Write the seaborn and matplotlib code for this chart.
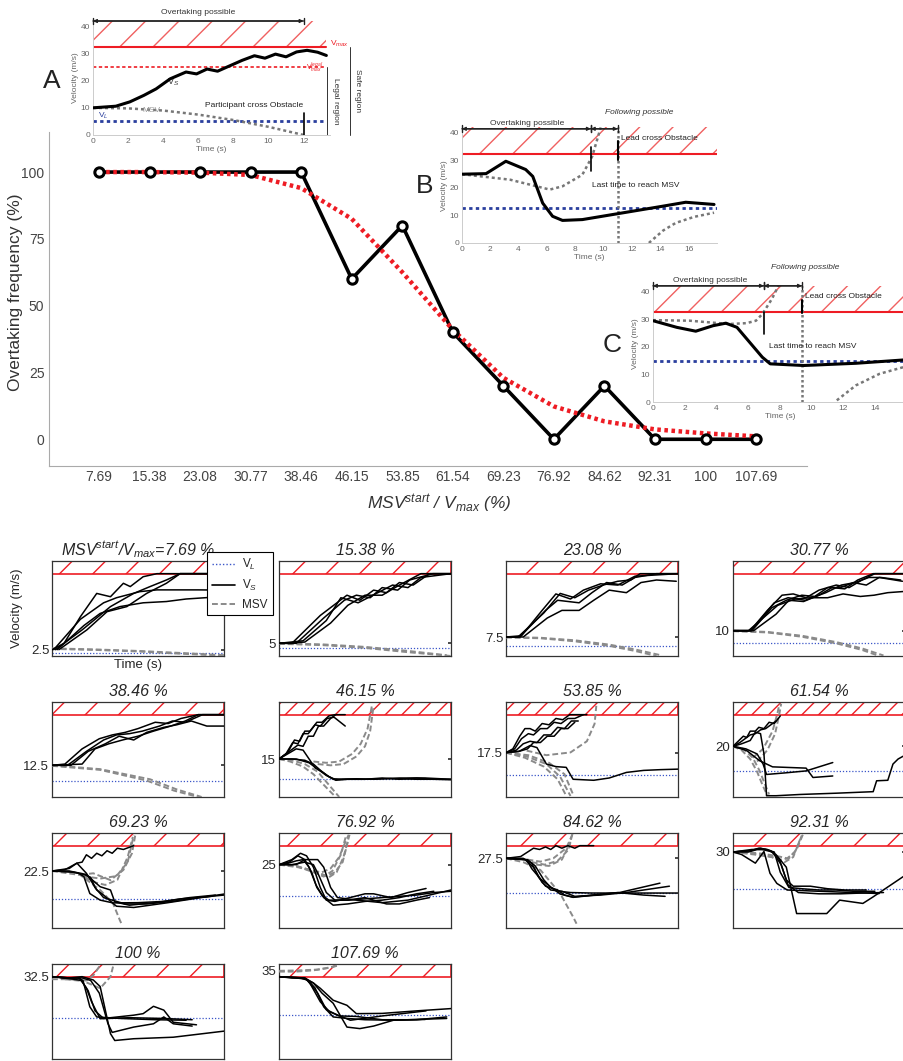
import numpy as np
import matplotlib
matplotlib.use('Agg')
import matplotlib.pyplot as plt
from matplotlib.lines import Line2D
import seaborn as sns

# ─────────────────────────────────────────────
# DATA – main curve
# ─────────────────────────────────────────────
RATIO = [7.69, 15.38, 23.08, 30.77, 38.46, 46.15, 53.85, 61.54, 69.23, 76.92, 84.62, 92.31, 100, 107.69]
OVERTAKE = [100, 100, 100, 100, 100, 60, 80, 40, 20, 0, 20, 0, 0, 0]
FIT = [100, 100, 99.8, 98.9, 94, 82.5, 62.5, 41, 23, 12.3, 6.7, 3.7, 2.2, 1.1]
RATIO_LABELS = ['7.69', '15.38', '23.08', '30.77', '38.46', '46.15', '53.85',
                '61.54', '69.23', '76.92', '84.62', '92.31', '100', '107.69']

# ─────────────────────────────────────────────
# DATA – inset A / B / C (time s, velocity m/s)
# ─────────────────────────────────────────────
A_VS_T = [0, 1.3, 2.1, 2.9, 3.6, 4.4, 5.3, 5.9, 6.5, 7.1, 7.8, 8.5, 9.2, 9.8, 10.4, 11, 11.6, 12.2, 12.8, 13.3]
A_VS_V = [10, 10.6, 12.2, 14.6, 17, 20.7, 23.2, 22.5, 24.3, 23.5, 25.5, 27.5, 29.2, 28.3, 29.8, 28.8, 30.6, 31.2, 30.5, 29.3]
A_MSV_T = [0, 2, 4, 6, 8, 10, 12]
A_MSV_V = [10, 9.8, 9, 7.5, 5.5, 3, 0]
A_VL, A_VLEGAL = 5, 25

B_VS_T = [0, 1.7, 3.1, 4.5, 5, 5.7, 6.4, 7.1, 8.5, 11.3, 14.1, 15.8, 17.8]
B_VS_V = [25, 25.2, 29.7, 26.7, 24.2, 14.5, 9.7, 8.2, 8.5, 10.9, 13.3, 14.8, 14]
B_MSV1_T = [0, 3.4, 6.2, 7.1, 8.5, 9.2, 9.8]
B_MSV1_V = [25, 23, 19.4, 20.6, 24.8, 31.5, 42]
B_MSV2_T = [13.2, 14.2, 15.1, 16.4, 17.8]
B_MSV2_V = [0, 4.5, 7.3, 9.5, 11]
B_VL, B_TLAST, B_TLEAD = 12.7, 9.1, 11

C_VS_T = [0, 1.5, 2.7, 3.8, 4.6, 5.3, 6.1, 6.9, 7.4, 9.5, 12.8, 15.8]
C_VS_V = [29.4, 27, 25.6, 27.6, 28.5, 27, 21.6, 16.2, 13.8, 13.2, 14, 15.2]
C_MSV1_T = [0, 2.3, 4.8, 5.9, 6.5, 6.9, 7.5, 8]
C_MSV1_V = [29.6, 29.4, 28.2, 28.5, 29.4, 31.8, 37.2, 43]
C_MSV2_T = [11.6, 12.8, 14.3, 15.8]
C_MSV2_V = [0.6, 6, 10.2, 12.6]
C_VL, C_TLAST, C_TLEAD = 15, 7, 9.4

# ─────────────────────────────────────────────
# DATA – small panels: start values, V_L, traces (t, v)
# ─────────────────────────────────────────────
START = [2.5, 5, 7.5, 10, 12.5, 15, 17.5, 20, 22.5, 25, 27.5, 30, 32.5, 35]
VL = [1.3, 3, 4, 5.3, 6.4, 7.3, 8.6, 10.3, 11.3, 12.6, 13.9, 15.2, 16, 17.3]

P01_VS = [([0, 1.4, 3.3, 5.2, 6.8, 8.3, 9.1, 10.6, 12.2, 20], [2.5, 5, 15.5, 24.7, 23.4, 28.7, 27.4, 31.3, 32.5, 32.5]),
          ([0.2, 3.3, 6, 7.5, 10.2, 12.2, 17, 20], [2.5, 14.5, 21, 23, 25.4, 26.1, 26.1, 26]),
          ([0.6, 3.7, 5.6, 7.9, 10.6, 13.3, 15.6, 20], [2.5, 12, 16.8, 19.5, 21, 21.5, 22.5, 23.5]),
          ([0.8, 4.05, 6.4, 8.7, 11, 13.3, 14.9, 20], [2.5, 10.3, 17.5, 19.5, 24.7, 28.7, 32.5, 32.5]),
          ([0.4, 3.5, 6.8, 9.5, 11.4, 13.3, 14.9, 20], [2.5, 10.3, 19.5, 24.7, 27.4, 30, 32.5, 32.5])]
P01_MSV = [([0, 5, 10, 15, 20], [3, 2.6, 2, 1.2, 0.3]), ([0, 5, 10, 15, 20], [2.8, 2.4, 1.8, 0.9, 0.1])]

P02_VS = [([0, 1.5, 4.8, 7.9, 9.4, 11, 12.5, 14, 15.6, 17.5, 20], [5, 5, 16, 24, 22, 26, 25, 29, 28, 32.5, 32.5]),
          ([0, 2, 5.2, 7.6, 9, 10.6, 12, 13.8, 15.2, 17.9, 20], [5, 5, 15, 22, 24, 23, 27, 26, 30, 32.5, 32.5]),
          ([0, 2.8, 5.5, 7.2, 9.2, 11.5, 13.2, 15, 16.5, 20], [5, 6, 14, 23, 21, 25, 28, 27, 31, 32.5]),
          ([0, 3, 6, 8, 10, 12, 14, 16.5, 20], [5, 5.5, 13, 20, 24, 24, 28, 32.5, 32.5])]
P02_MSV = [([0, 5, 10, 15, 19.5], [5, 4.6, 3.6, 2, 0.3]), ([0, 5, 10, 15, 20], [4.8, 4.3, 3.2, 1.5, 0])]

P03_VS = [([0, 1.4, 4.4, 6.3, 8, 9.6, 11.3, 13, 14.5, 15.6, 20], [7.5, 7.5, 17, 24.7, 23, 26, 28, 29.5, 30, 32.5, 32.5]),
          ([0, 1.6, 4.6, 6, 8.5, 10, 11.7, 13.5, 15, 17.5, 20], [7.5, 7.5, 18, 22, 21, 25, 29, 28, 31, 32.5, 32.5]),
          ([0, 2, 4.8, 6.5, 8.5, 10.2, 12, 14, 15.7, 17.5, 19.8], [7.5, 7.5, 15, 18, 18, 22, 26, 25, 29, 30, 29.5]),
          ([0, 1.8, 4.2, 5.8, 7.5, 9, 11, 13, 15, 20], [7.5, 8, 18, 24.5, 22.5, 26, 28.5, 28, 31.5, 32.5])]
P03_MSV = [([0, 4, 8, 12, 15, 18], [7.5, 7.2, 6.2, 4.5, 2.6, 0.3]), ([0, 4, 8, 12, 15, 17.5], [7.3, 7, 5.8, 4, 2, 0])]

P04_VS = [([0, 2, 4, 5.7, 7, 8.5, 10, 12, 13.5, 15, 16.5, 20], [10, 10, 18, 24, 24.5, 23, 26, 28, 27, 30, 32.5, 32.5]),
          ([0, 2.2, 4.5, 6.2, 8, 9.5, 11, 12.5, 14, 15.5, 17, 19.7], [10, 10, 19, 22, 24, 23.5, 27, 27, 29, 28, 31, 29.5]),
          ([0, 2.4, 5, 6.5, 8.2, 10, 11.5, 13, 14.5, 16.3, 20], [10, 10, 16.5, 22, 21.5, 24, 27, 26.5, 30, 32.5, 32.5]),
          ([0, 1.8, 5.2, 7.2, 9, 11, 12.8, 14.8, 16.4, 18, 20], [10, 10, 20, 22.5, 23, 23, 24.5, 23.5, 24, 25, 25.5]),
          ([0, 2.1, 4.8, 6.4, 8.4, 10.8, 12.6, 14.2, 15.8, 17.2, 19.5], [10, 10, 21, 23, 22, 25, 28, 29, 31, 31, 30])]
P04_MSV = [([0, 4, 8, 12, 15, 17.5], [10, 9.5, 8, 5.5, 3, 0.2]), ([0, 4, 8, 12, 15, 17], [9.8, 9.3, 7.6, 5, 2.4, 0])]

P05_VS = [([0, 1.5, 3.5, 5.5, 7, 8.5, 10, 12, 13.5, 15, 17, 20], [12.5, 13, 19, 23, 24.5, 25.5, 27, 29.5, 29, 31, 32.5, 32.5]),
          ([0, 1.8, 4, 6, 7.5, 9, 10.5, 12.5, 14, 15.5, 17.5, 20], [12.5, 12.5, 18, 22.5, 24.5, 25, 26, 28, 30, 29.5, 32.5, 32.5]),
          ([0, 2.2, 4.2, 6.2, 7.8, 9.5, 11, 13, 14.5, 16.2, 18, 20], [12.5, 12.5, 18, 21, 24, 22.5, 25.5, 27.5, 28.5, 30, 28, 28]),
          ([0, 3.5, 5, 6.6, 8.2, 10, 11.8, 13.8, 15.5, 17, 20], [12.5, 13, 19, 21, 22.5, 24, 26, 28, 30, 32.5, 32.5])]
P05_MSV = [([0, 5.6, 11.4, 14.5, 17.4], [12.5, 11, 7, 3, 0]), ([0, 5.6, 11, 14.2, 17], [12.3, 10.7, 6.5, 2.5, 0])]

P06_VS = [([0, 0.8, 1.6, 2.2, 2.8, 3.4, 4.2, 4.8, 5.6, 6.4, 7.7], [15, 17, 21.5, 21, 25, 25, 28.5, 28, 31, 31.5, 28]),
          ([0, 1, 1.8, 2.4, 3, 3.6, 4.4, 5, 5.8, 6.5, 7.7], [15, 17.5, 22.5, 22, 26, 26, 29.5, 29.5, 32, 32.5, 32.5]),
          ([0, 1.2, 2.2, 2.8, 3.4, 4, 4.6, 5.2, 6, 6.6], [15, 18, 20.5, 20, 24, 24, 28, 28, 31, 32.5]),
          ([0, 1, 2, 2.8, 3.5, 4.2, 5, 5.8, 6.6, 8, 10, 13, 16, 20], [15, 17, 19, 18.5, 15, 11.5, 10, 8, 6.6, 7, 7, 7.3, 7, 7]),
          ([0, 1.5, 3, 4, 5, 5.6, 6.2, 7, 9, 11, 14, 17, 20], [15, 15, 14.5, 13, 10, 8.5, 7.2, 7, 7.2, 7, 7.5, 7.5, 7]),
          ([0, 2, 3.5, 4.5, 5.5, 6.5, 8, 10, 12, 14, 16, 18, 20], [15, 15, 13.5, 11, 8.5, 7, 7, 7, 7.5, 7, 7.5, 7, 6.8])]
P06_MSV = [([0, 1.5, 3, 4.5, 5.5, 6.5, 7], [15, 14.5, 13, 10, 6, 2, 0]),
           ([0, 1.3, 2.8, 4, 5, 6, 6.6], [15, 14, 12, 9, 5.5, 2, 0]),
           ([4, 5.5, 7, 8.5, 9.5, 10.3, 10.8], [14, 13.5, 14, 17, 21, 27, 36]),
           ([4.5, 6, 7.5, 9, 10, 10.6, 11], [13, 12.5, 13, 16, 20, 26, 36])]

P07_VS = [([0, 0.8, 1.6, 2.2, 2.8, 3.4, 4.2, 5, 5.8, 6.6, 7.4, 8.2, 9.4], [17.5, 19, 24, 27, 27, 26, 29, 28.5, 31, 30.5, 32.5, 32.5, 32.5]),
          ([0, 1, 1.8, 2.6, 3.2, 4, 4.8, 5.6, 6.4, 7.2, 8, 9], [17.5, 19, 23, 25, 24.5, 27, 27, 29.5, 29, 31, 31, 32.5]),
          ([0, 1.2, 2, 2.8, 3.6, 4.4, 5.2, 6, 6.8, 7.6, 8.4], [17.5, 18.5, 21, 22, 21.5, 24.5, 24.5, 27.5, 27, 30, 30]),
          ([0, 1.5, 2.5, 3.2, 4, 4.8, 5.6, 6.4, 7.2, 8], [17.5, 18, 19, 21.5, 21.5, 24, 24, 27, 27, 29.5]),
          ([0, 1.5, 2.8, 3.6, 4.7, 5.8, 7, 7.8, 10.2, 12, 14, 16, 18, 20], [17.5, 18, 20.3, 19.5, 13, 12, 11.7, 7, 6.6, 7.5, 9.7, 10.5, 10.8, 11])]
P07_MSV = [([0, 2.4, 4.7, 6.3, 7.5], [17.5, 16, 13, 8, 0.4]),
           ([0, 2.2, 4.4, 6, 7], [17.5, 15.5, 12, 7, 0.5]),
           ([0, 2.6, 5, 6.8, 7.8], [17.5, 16.5, 13.5, 9, 1]),
           ([2.4, 4.7, 7.5, 9.4, 10.3, 10.5], [18.3, 16.5, 17.6, 22, 28.9, 36])]

P08_VS = [([0, 0.6, 1.2, 1.6, 2, 2.6, 3, 3.6, 4.2, 4.8, 5.5], [20, 22, 24, 23.5, 26, 26, 27.5, 27, 29.5, 29, 32]),
          ([0, 0.8, 1.4, 2, 2.6, 3.2, 3.8, 4.4, 5], [20, 21.5, 23, 24.5, 25, 26.5, 27, 28.5, 30]),
          ([0, 1, 2, 2.6, 3.2, 3.6, 3.9, 5, 7.8, 12, 16.3, 16.7, 18, 18.6, 19.2, 20], [20, 21, 22.3, 25.6, 25, 17, 0.5, 0.5, 1, 1.5, 2.1, 6.4, 6.6, 13, 15, 16.5]),
          ([0, 1.6, 3.1, 4.6, 8.5, 9.3, 11.6], [20, 18.3, 14.3, 11.9, 11.4, 7.7, 8.3]),
          ([0, 1.5, 2.8, 3.5, 3.9, 6, 8.5, 11.6], [20, 19, 17, 13, 8.9, 9.5, 10.3, 13.6])]
P08_MSV = [([0, 1.2, 2.3, 3.1, 3.6, 4.2], [20, 19, 15.5, 10.3, 6, 1]),
           ([0, 1, 2, 2.8, 3.4, 4], [20, 18.5, 15, 10, 5, 0.5]),
           ([2.3, 3.5, 4.6, 5.2, 5.4], [15.5, 19, 26, 33.5, 36.8]),
           ([2.8, 4, 4.9, 5.4, 5.6], [14, 18.5, 25, 33, 36.8])]

P09_VS = [([0, 2, 2.9, 3.5, 4, 4.6, 5.2, 5.8, 6.4, 7, 7.6, 8.3, 9.5], [22.5, 23.5, 25.6, 26, 28.9, 27.5, 29.5, 28.5, 30.5, 29.5, 31.5, 31, 32.5]),
          ([0, 1.5, 2.9, 4, 5.2, 6, 7.1, 7.5, 9.5, 13.3, 20], [22.5, 23, 25.6, 21.6, 15, 13, 9.7, 8.6, 8.1, 9.9, 13.4]),
          ([0, 2, 3, 3.7, 4.4, 5.6, 7.1, 10, 13, 16, 19], [22.5, 22.5, 21.8, 20.3, 13.6, 11, 9.9, 10, 10.5, 12, 13]),
          ([0, 2, 4, 5.6, 6.8, 7.3, 9, 12, 15, 18.5], [22.5, 22.3, 21, 16.3, 15, 10.3, 9, 10, 11.5, 12.5]),
          ([0, 2.5, 3.5, 4.5, 5, 6, 7, 8.5, 11, 14, 17, 20], [22.5, 22, 21.5, 20, 16, 12, 11, 9.5, 9.5, 10.5, 12, 13])]
P09_MSV = [([0, 3.3, 5.6, 7.1, 7.9, 8.1], [22.5, 20.9, 15, 9.7, 3, 1.5]),
           ([3.3, 4.8, 6.8, 8.3, 9.3, 9.7], [21, 21.6, 18.9, 22.9, 29.5, 37]),
           ([3.6, 5.6, 7.5, 8.8, 9.5], [20.5, 19.5, 20.5, 26, 36.5]),
           ([3.8, 5, 6.2, 7.6, 8.8, 9.4], [20, 18, 17, 19, 28, 36])]

P10_VS = [([0, 1.5, 2.5, 3.2, 4, 4.8, 5.5, 6.5, 10, 11, 13, 15, 17.1], [25, 27, 29.5, 28.5, 24, 16, 11, 10.5, 13.5, 13.5, 12, 14, 15.6]),
          ([0, 1.2, 2.2, 3, 3.8, 4.4, 5.2, 6.3, 8, 10, 12, 14, 16, 18], [25, 26, 28.5, 27, 22, 16, 12, 9, 9.5, 10.5, 11, 12, 13.5, 14.5]),
          ([0, 1, 2, 2.8, 3.5, 4.3, 5, 5.8, 8, 10, 12.5, 14, 16, 17.5], [25, 25.5, 26.5, 27, 24, 17, 13, 11, 11, 12, 9.5, 9.5, 11, 12]),
          ([0, 1.5, 3, 4, 4.6, 5.5, 6.5, 8, 10, 12, 14, 16, 18, 20], [25, 25, 26, 25, 21, 14, 11, 11, 11.5, 12, 12.5, 13, 14, 14.5]),
          ([0, 2, 3, 4.5, 5.2, 6, 6.8, 9, 12, 15, 17.5, 20], [25, 25, 27, 27, 24, 16, 12, 11, 10, 11, 13, 15])]
P10_MSV = [([0, 2, 4, 5.2, 6.2, 7.2, 7.8], [25, 24.5, 22, 20.3, 22.5, 29, 36.5]),
           ([0, 2.2, 4, 5, 6, 7, 7.6, 8.1], [25, 24, 22.5, 22, 23.5, 28, 33, 36.8]),
           ([2, 3.5, 4.8, 5.8, 6.7, 7.5, 8.2], [24.5, 23, 21.5, 20, 22, 28, 36.8]),
           ([3, 4.5, 5.5, 6.5, 7.4, 8], [23.5, 22, 20.5, 22, 26, 34])]

P11_VS = [([0, 1.7, 3.2, 3.9, 4.6, 5.2, 5.8, 6.5, 7.2, 8, 8.6, 10.2], [27.5, 28.2, 31.5, 31, 32, 31, 32.5, 31.5, 32.5, 31.5, 32.5, 32.5]),
          ([0, 2.4, 3, 4, 5.5, 6.3, 7.8, 13.2, 17.9], [27.5, 26.9, 23.4, 19.4, 15.4, 13.4, 12.1, 14, 17.7]),
          ([0, 2.2, 3.2, 4.2, 5.2, 6.5, 8, 11, 14, 17, 19], [27.5, 27, 24, 18, 15, 14.5, 12.5, 13, 14, 15.5, 16.5]),
          ([0, 2, 3, 3.8, 4.6, 6, 6.8, 7.8, 10, 13, 16, 18.5], [27.5, 27.5, 25.5, 20, 16.5, 15, 13, 12.2, 13, 14, 13, 12.5]),
          ([0, 2.5, 3.4, 4.4, 5.2, 6.2, 7.5, 10, 13, 16, 20], [27.5, 27, 24.5, 19, 16, 14.5, 14, 13.8, 13.8, 13.8, 13.8])]
P11_MSV = [([0, 2, 4, 6.3, 7.8, 8.2], [27.5, 26, 22.9, 13.6, 4.4, 1.7]),
           ([2.5, 4, 5.5, 7, 7.8], [27, 26.2, 27.5, 31.5, 37.5]),
           ([3, 4.5, 6, 7.3, 7.7], [26, 25, 26.5, 31, 37]),
           ([3.5, 5, 6.5, 7.5], [25, 24.5, 27, 34])]

P12_VS = [([0, 1, 2.6, 3.6, 4.3, 5.1, 6.3, 10, 14, 17], [30, 29, 25.6, 30.2, 21.6, 17.6, 15, 14.5, 14, 13.6]),
          ([0, 2, 3, 4, 5, 6.2, 7.4, 10.9, 12.4, 15.1, 16.3, 19.8], [30, 30.5, 31.5, 31, 29, 24, 5.7, 5.7, 11, 9.7, 12.3, 20.3]),
          ([0, 1.8, 2.8, 3.8, 4.8, 5.5, 6.5, 8, 10, 12, 14, 16.5], [30, 30, 31, 31, 30, 22, 16, 15.5, 15, 15, 14.5, 14.5]),
          ([0, 2, 3.2, 4.4, 5.4, 6.2, 7, 9, 11, 13, 15.5], [30, 30.5, 31.5, 30.5, 27, 19, 16.5, 16.5, 15.5, 15, 15]),
          ([0, 2.2, 3.4, 4.6, 5.6, 6.4, 7.6, 10, 12.5, 15, 17.5], [30, 31, 31, 30, 25, 17, 14, 13.5, 13.5, 13.8, 14])]
P12_MSV = [([0, 2, 4, 5.5, 6.5, 7.4, 8.2], [30, 29.5, 28.5, 27, 27.5, 31, 37.5]),
           ([0, 2.5, 4.5, 6, 7, 7.8], [30, 29, 28, 26, 28, 35]),
           ([1, 3, 5, 6.3, 7.2, 8], [30, 29.5, 28.5, 27.5, 30, 36.5])]

P13_VS = [([0, 1.5, 3, 3.6, 4.4, 5.2, 8, 12, 15.6], [32.5, 32, 32, 31, 20.6, 16.6, 16, 15.5, 15.3]),
          ([0, 2, 3.2, 4, 4.6, 5.6, 9, 13, 16.3], [32.5, 32, 32, 28, 22.6, 15.9, 16.3, 16, 15.5]),
          ([0, 2, 3.5, 4.8, 5.6, 6.8, 7.3, 9.5, 14.1, 20], [32.5, 32, 32.5, 31.2, 28.6, 10, 7.3, 8, 8.6, 11]),
          ([0, 2, 3.5, 4.5, 5.5, 6.5, 7, 9.5, 11.8, 13, 14.1, 16.3], [32.5, 32, 32, 31, 26, 14, 10.5, 12.6, 13.9, 16.6, 13.9, 13]),
          ([0, 2.5, 3.4, 4.2, 5, 6, 9.5, 10.6, 11.8, 13, 14.1, 16.8], [32.5, 31.5, 31, 27, 19, 16, 17.3, 17.9, 20.8, 19.3, 14.5, 13.5])]
P13_MSV = [([0, 2, 3.5, 4.5, 5.6, 6.8, 7.1], [31.5, 31.5, 31, 29.5, 27.9, 32.5, 36.5]),
           ([1.5, 3, 4, 4.8, 5.6], [31.5, 31, 31, 33, 37])]

P14_VS = [([0, 1.5, 3, 3.6, 4.8, 5.9, 8.3, 12, 17.1], [32.5, 32, 32, 29.9, 22.6, 18.6, 15.3, 17, 19]),
          ([0, 2.8, 4, 4.8, 6.3, 7.9, 9, 12, 16, 20], [32.5, 32, 30, 27.9, 23.2, 21.2, 17.9, 18, 19, 19.9]),
          ([0, 2.5, 3.4, 4.2, 5.2, 6.3, 8, 10, 13.3, 16, 19.5], [32.5, 32, 31, 28, 20.6, 16.6, 16, 15.5, 15.3, 15.5, 16.6]),
          ([0, 3, 4, 5, 6.3, 7.9, 9.4, 11, 13.3, 15, 17], [32.5, 32, 30, 26, 22, 12.6, 12, 13, 15.3, 15.5, 15.6]),
          ([0, 2, 3.2, 4.5, 5.5, 7, 9, 12, 15, 19.5], [32.5, 32, 31.5, 26, 19.5, 17, 16.8, 15.5, 15.5, 16])]
P14_MSV = [([0, 2, 4, 5.5, 6.7], [34.5, 34.5, 35, 35.8, 36.8]),
           ([0, 2.5, 4.5, 6, 7], [34.8, 35, 35.3, 36.2, 37])]

PANEL_VS = [P01_VS, P02_VS, P03_VS, P04_VS, P05_VS, P06_VS, P07_VS,
            P08_VS, P09_VS, P10_VS, P11_VS, P12_VS, P13_VS, P14_VS]
PANEL_MSV = [P01_MSV, P02_MSV, P03_MSV, P04_MSV, P05_MSV, P06_MSV, P07_MSV,
             P08_MSV, P09_MSV, P10_MSV, P11_MSV, P12_MSV, P13_MSV, P14_MSV]

# ─────────────────────────────────────────────
# STYLE
# ─────────────────────────────────────────────
sns.set_theme(style='white')
plt.rcParams['font.family'] = ['Liberation Sans', 'DejaVu Sans']
plt.rcParams['mathtext.fontset'] = 'custom'
plt.rcParams['mathtext.rm'] = 'Liberation Sans'
plt.rcParams['mathtext.it'] = 'Liberation Sans:italic'
plt.rcParams['hatch.linewidth'] = 1.0

RED = '#ee1c24'
GREY = '#8a8a8a'
BLUE = '#3a55c8'


def trace(ax, t, v, color, lw, ls='-', z=2, **kw):
    sns.lineplot(x=t, y=v, ax=ax, color=color, lw=lw, linestyle=ls, estimator=None,
                 sort=False, legend=False, zorder=z, **kw)


fig = plt.figure(figsize=(9.04, 10.61), dpi=100)

# ─────────────────────────────────────────────
# MAIN PLOT
# ─────────────────────────────────────────────
ax = fig.add_axes([0.0537, 0.5608, 0.8385, 0.3148])
trace(ax, RATIO, OVERTAKE, 'black', 2.6, z=2)
trace(ax, RATIO, FIT, RED, 3.2, ls=(0, (0.8, 0.8)), z=3)
sns.scatterplot(x=RATIO, y=OVERTAKE, ax=ax, s=45, color='white', edgecolor='black',
                linewidth=2.2, zorder=4, legend=False)
ax.set_xlim(0, 115.38)
ax.set_ylim(-10, 115)
ax.set_xticks(RATIO)
ax.set_xticklabels(RATIO_LABELS)
ax.set_yticks([0, 25, 50, 75, 100])
ax.tick_params(direction='in', length=4, color='#999999', labelsize=10,
               labelcolor='#444444', pad=3)
for s in ['top', 'right']:
    ax.spines[s].set_visible(False)
for s in ['left', 'bottom']:
    ax.spines[s].set_color('#aaaaaa')
    ax.spines[s].set_linewidth(0.8)
ax.set_ylabel('Overtaking frequency (%)', fontsize=12.5, color='#333333')
ax.yaxis.set_label_coords(-0.034, 0.52)
ax.set_xlabel('MSV$^{start}$ / V$_{max}$ (%)', fontsize=12.5, style='italic',
              color='#333333')
ax.xaxis.set_label_coords(0.515, -0.08)
ax.patch.set_alpha(0)


# ─────────────────────────────────────────────
# INSETS A, B, C
# ─────────────────────────────────────────────
def inset(rect, xmax, xticks, hatch_end=None):
    a = fig.add_axes(rect)
    a.set_xlim(0, xmax)
    a.set_ylim(0, 42)
    he = xmax if hatch_end is None else hatch_end
    a.fill_between([0, he], 32.5, 42, facecolor='none', edgecolor='#f06060',
                   hatch='/', linewidth=0, zorder=1)
    a.plot([0, he], [32.5, 32.5], color=RED, lw=1.5, zorder=2)
    a.set_xticks(xticks)
    a.set_yticks([0, 10, 20, 30, 40])
    a.tick_params(direction='in', length=2, labelsize=6, labelcolor='#666666',
                  color='#bbbbbb', pad=2)
    for s in ['top', 'right']:
        a.spines[s].set_visible(False)
    for s in ['left', 'bottom']:
        a.spines[s].set_color('#cccccc')
        a.spines[s].set_linewidth(0.7)
    a.set_xlabel('Time (s)', fontsize=6, color='#666666', labelpad=1)
    a.set_ylabel('Velocity (m/s)', fontsize=6, color='#666666', labelpad=1)
    a.patch.set_alpha(0)
    return a


def span_arrow(a, t0, t1, y):
    a.annotate('', xy=(t1, y), xytext=(t0, y), annotation_clip=False,
               arrowprops=dict(arrowstyle='|-|', lw=1.0, color='#222222',
                               mutation_scale=2.5, shrinkA=0, shrinkB=0))
    a.annotate('', xy=(t1, y), xytext=(t0, y), annotation_clip=False,
               arrowprops=dict(arrowstyle='<|-|>', lw=1.0, color='#222222',
                               mutation_scale=5, shrinkA=0, shrinkB=0))


# inset A
aA = inset([0.1029, 0.8728, 0.262, 0.1074], 13.5, [0, 2, 4, 6, 8, 10, 12], hatch_end=13.3)
trace(aA, [0, 13.3], [A_VLEGAL, A_VLEGAL], RED, 1.2, ls=(0, (2, 1.5)))
trace(aA, [0, 13.3], [A_VL, A_VL], '#2a3f9e', 2.0, ls=(0, (1.2, 1.2)))
trace(aA, A_MSV_T, A_MSV_V, '#777777', 1.8, ls=(0, (1.2, 1.2)))
trace(aA, A_VS_T, A_VS_V, 'black', 2.2, z=4)
trace(aA, [12, 12], [0, 8], 'black', 1.2)
span_arrow(aA, 0, 12, 42)
aA.text(6, 44.5, 'Overtaking possible', fontsize=6, ha='center', color='#333333')
aA.text(12, 9.5, 'Participant cross Obstacle', fontsize=6, ha='right', va='bottom', color='#222222')
aA.text(4.2, 18.5, 'V$_S$', fontsize=6.5, color='#333333')
aA.text(2.8, 9, 'MSV', fontsize=6, color='#999999', va='center')
aA.text(0.3, 5, 'V$_L$', fontsize=6, color='#2a3f9e', va='bottom')
aA.text(13.5, 33.5, 'V$_{max}$', fontsize=6, color=RED, va='center')
aA.text(13.1, 25, 'V$_{max}^{legal}$', fontsize=5, color=RED, va='center', ha='right')
for xx, ytop, lab in [(13.35, 25, 'Legal region'), (14.65, 32.5, 'Safe region')]:
    aA.plot([xx, xx], [0, ytop], color='#333333', lw=0.7, clip_on=False)
    aA.text(xx + 0.45, ytop / 2, lab, fontsize=6, rotation=270, va='center',
            ha='center', color='#333333', clip_on=False)

# inset B
aB = inset([0.511, 0.771, 0.282, 0.1089], 18, [0, 2, 4, 6, 8, 10, 12, 14, 16])
trace(aB, [0, 18], [B_VL, B_VL], '#2a3f9e', 2.0, ls=(0, (1.2, 1.2)))
trace(aB, [B_TLEAD, B_TLEAD], [0, 42], '#777777', 1.8, ls=(0, (1, 1)))
trace(aB, B_MSV1_T, B_MSV1_V, '#777777', 1.8, ls=(0, (1.2, 1.2)))
trace(aB, B_MSV2_T, B_MSV2_V, '#777777', 1.8, ls=(0, (1.2, 1.2)))
trace(aB, B_VS_T, B_VS_V, 'black', 2.2, z=4)
trace(aB, [B_TLAST, B_TLAST], [26, 35], 'black', 1.2)
trace(aB, [B_TLEAD, B_TLEAD], [30, 37], 'black', 1.5)
span_arrow(aB, 0, B_TLAST, 41.5)
span_arrow(aB, B_TLAST, B_TLEAD, 41.5)
aB.text(4.6, 43, 'Overtaking possible', fontsize=6, ha='center', color='#333333')
aB.text(12.5, 47, 'Following possible', fontsize=6, ha='center', style='italic', color='#333333')
aB.text(11.2, 37.5, 'Lead cross Obstacle', fontsize=6, color='#222222')
aB.text(9.2, 20.5, 'Last time to reach MSV', fontsize=6, color='#222222')

# inset C
aC = inset([0.7223, 0.6211, 0.2805, 0.1095], 16, [0, 2, 4, 6, 8, 10, 12, 14])
trace(aC, [0, 16], [C_VL, C_VL], '#2a3f9e', 2.0, ls=(0, (1.2, 1.2)))
trace(aC, [C_TLEAD, C_TLEAD], [0, 42], '#777777', 1.8, ls=(0, (1, 1)))
trace(aC, C_MSV1_T, C_MSV1_V, '#777777', 1.8, ls=(0, (1.2, 1.2)))
trace(aC, C_MSV2_T, C_MSV2_V, '#777777', 1.8, ls=(0, (1.2, 1.2)))
trace(aC, C_VS_T, C_VS_V, 'black', 2.2, z=4)
trace(aC, [C_TLAST, C_TLAST], [24.5, 32.5], 'black', 1.2)
trace(aC, [C_TLEAD, C_TLEAD], [32, 37], 'black', 1.5)
span_arrow(aC, 0, C_TLAST, 42)
span_arrow(aC, C_TLAST, C_TLEAD, 42)
aC.text(3.6, 43.5, 'Overtaking possible', fontsize=6, ha='center', color='#333333')
aC.text(9.6, 48, 'Following possible', fontsize=6, ha='center', style='italic', color='#333333')
aC.text(9.6, 37.5, 'Lead cross Obstacle', fontsize=6, color='#222222')
aC.text(7.3, 19.5, 'Last time to reach MSV', fontsize=6, color='#222222')

fig.text(52 / 904, 1 - 81 / 1061, 'A', fontsize=19, ha='center', va='center', color='#222222')
fig.text(425 / 904, 1 - 186 / 1061, 'B', fontsize=19, ha='center', va='center', color='#222222')
fig.text(612 / 904, 1 - 345 / 1061, 'C', fontsize=19, ha='center', va='center', color='#222222')

# ─────────────────────────────────────────────
# SMALL PANELS (4 x 4 grid, 14 used)
# ─────────────────────────────────────────────
col_left = [52, 279, 506, 733]
row_top = [561, 702, 833, 964]
pw, ph = 172, 95
dense = {5, 6, 7}

for i in range(14):
    r, c = divmod(i, 4)
    a = fig.add_axes([col_left[c] / 904, (1061 - row_top[r] - ph) / 1061, pw / 904, ph / 1061])
    a.set_xlim(0, 20)
    a.set_ylim(0, 37.5)
    a.fill_between([0, 20], 32.5, 37.5, facecolor='white', edgecolor=RED,
                   hatch='//' if i in dense else '/', linewidth=1.2, zorder=1)
    trace(a, [0, 20], [VL[i], VL[i]], BLUE, 0.9, ls=(0, (1, 1.5)), z=2)
    for t, v in PANEL_MSV[i]:
        trace(a, t, v, GREY, 1.4, ls=(0, (3, 1.5)), z=3)
    for t, v in PANEL_VS[i]:
        trace(a, t, v, 'black', 1.1, z=4)
    a.set_xticks([])
    a.set_yticks([START[i]])
    a.set_yticklabels([f'{START[i]:g}'])
    a.tick_params(axis='y', direction='in', length=2, right=True, labelsize=9.5,
                  pad=2, color='#333333')
    for s in a.spines.values():
        s.set_color('#333333')
        s.set_linewidth(0.9)
    pct = RATIO_LABELS[i]
    if i == 0:
        a.set_title(f'MSV$^{{start}}$/V$_{{max}}$={pct} %', fontsize=11.5, style='italic', pad=4)
        a.set_xlabel('Time (s)', fontsize=9.5, labelpad=2)
        a.set_ylabel('Velocity (m/s)', fontsize=9.5, labelpad=6)
    else:
        a.set_title(f'{pct} %', fontsize=11.5, style='italic', pad=4)

handles = [Line2D([], [], color=BLUE, lw=1, ls=(0, (1, 1.5))),
           Line2D([], [], color='black', lw=1.2),
           Line2D([], [], color=GREY, lw=1.4, ls=(0, (3, 1.5)))]
leg = fig.legend(handles, ['V$_L$', 'V$_S$', 'MSV'], loc='upper left',
                 bbox_to_anchor=(207 / 904, 1 - 552 / 1061), fontsize=8.5,
                 frameon=True, fancybox=False, edgecolor='black', framealpha=1,
                 handlelength=2.0, borderpad=0.4, labelspacing=0.5, handletextpad=0.6,
                 borderaxespad=0)
leg.get_frame().set_linewidth(0.8)

fig.savefig('out.png', dpi=100)
plt.close(fig)
print('saved out.png')
